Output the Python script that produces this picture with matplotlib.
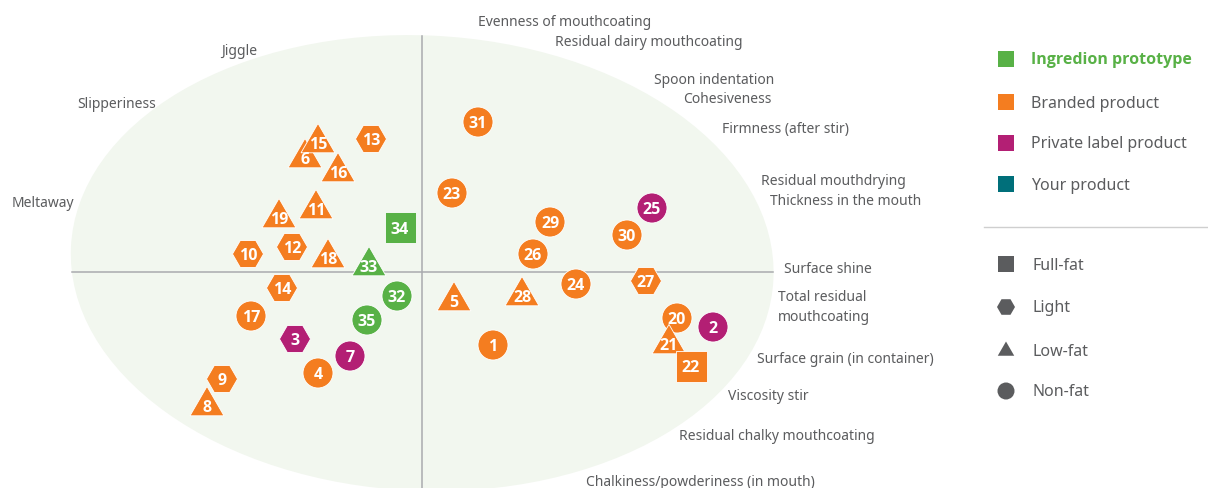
import numpy as np
import matplotlib
matplotlib.use("Agg")
import matplotlib.pyplot as plt
from matplotlib.patches import Circle, RegularPolygon, Rectangle, Ellipse

plt.rcParams['font.family'] = ['Noto Sans', 'DejaVu Sans']

# ---- data (map coordinates, origin at the axis crossing) ----
ids = [1, 2, 3, 4, 5, 6, 7, 8, 9, 10, 11, 12, 13, 14, 15, 16, 17, 18,
       19, 20, 21, 22, 23, 24, 25, 26, 27, 28, 29, 30, 31, 32, 33, 34, 35]
xs = [71, 291, -127, -104, 32, -117, -72, -215, -200, -174, -106, -130, -51, -140, -104, -84, -171, -94,
      -143, 255, 247, 269, 30, 154, 230, 111, 224, 100, 128, 205, 56, -25, -53, -22, -55]
ys = [-73, -55, -67, -101, -29, 114, -84, -134, -107, 18, 63, 25, 133, -16, 129, 100, -44, 14,
      54, -46, -72, -94, 79, -12, 64, 18, -9, -24, 50, 37, 150, -24, 6, 44, -48]
fat = ['non', 'non', 'light', 'non', 'low', 'low', 'non', 'low', 'light', 'light', 'low', 'light', 'light', 'light', 'low', 'low', 'non', 'low',
       'low', 'non', 'low', 'full', 'non', 'non', 'non', 'non', 'light', 'low', 'non', 'non', 'non', 'non', 'low', 'full', 'non']
kind = ['brand', 'private', 'private', 'brand', 'brand', 'brand', 'private', 'brand', 'brand', 'brand', 'brand', 'brand', 'brand', 'brand', 'brand', 'brand', 'brand', 'brand',
        'brand', 'brand', 'brand', 'brand', 'brand', 'brand', 'private', 'brand', 'brand', 'brand', 'brand', 'brand', 'brand', 'proto', 'proto', 'proto', 'proto']

attr_right = ['Evenness of mouthcoating', 'Residual dairy mouthcoating', 'Spoon indentation', 'Cohesiveness',
              'Firmness (after stir)', 'Residual mouthdrying', 'Thickness in the mouth', 'Surface shine',
              'Total residual\nmouthcoating', 'Surface grain (in container)', 'Viscosity stir',
              'Residual chalky mouthcoating', 'Chalkiness/powderiness (in mouth)']
attr_left = ['Jiggle', 'Slipperiness', 'Meltaway']

kind_labels = ['Ingredion prototype', 'Branded product', 'Private label product', 'Your product']
fat_labels = ['Full-fat', 'Light', 'Low-fat', 'Non-fat']

COL = {'proto': '#58B146', 'brand': '#F47D20', 'private': '#B31F74', 'yours': '#006F7A'}
GREY = '#5B5C5E'
FILL = '#F2F7EF'
LINE = '#A9ABAE'
BOLD = ['Open Sans', 'Lato', 'DejaVu Sans']

W, H = 1208, 488
OX, OY = 422, 272  # pixel position of origin


def px(x):
    return x - OX


def py(y):
    return OY - y


fig = plt.figure(figsize=(W / 100, H / 100), dpi=100)
ax = fig.add_axes([0, 0, 1, 1])
ax.set_xlim(px(0), px(W))
ax.set_ylim(py(H), py(0))
ax.axis('off')

# background ellipse
ax.add_patch(Ellipse((0.2, 8.9), 703.2, 455.4, angle=-2.59, facecolor=FILL, edgecolor='none', zorder=0))

ax.plot([px(72), px(773)], [0, 0], color=LINE, lw=1.1, zorder=1)
ax.plot([0, 0], [py(36), py(H)], color=LINE, lw=1.1, zorder=1)

R_CIRC = 15
SQ = 31
for i, x, y, f, k in zip(ids, xs, ys, fat, kind):
    c = COL[k]
    if f == 'non':
        p = Circle((x, y), R_CIRC)
    elif f == 'light':
        p = RegularPolygon((x, y), 6, radius=15.5, orientation=np.pi / 6)
    elif f == 'low':
        p = RegularPolygon((x, y), 3, radius=19.6)
    else:
        p = Rectangle((x - SQ / 2, y - SQ / 2), SQ, SQ)
    p.set_facecolor(c)
    p.set_edgecolor('white')
    p.set_linewidth(0.6)
    p.set_zorder(3)
    ax.add_patch(p)
    ax.text(x, y, str(i), color='white', fontsize=11.5, fontweight='bold', family=BOLD,
            ha='center', va='center_baseline', zorder=4)

# attribute labels
DY = 1.5
right_pos = [(478, 21), (555, 41), (654, 79), (683, 98), (722, 128), (761, 180), (770, 200), (784, 268),
             (778, 306), (757, 358), (728, 395), (679, 435), (586, 481)]
for t, (x, y) in zip(attr_right, right_pos):
    ax.text(px(x), py(y) - DY, t, fontsize=10, color=GREY, ha='left', va='center', linespacing=1.4)
left_pos = [(257, 50), (156, 103), (74, 202)]
for t, (x, y) in zip(attr_left, left_pos):
    ax.text(px(x), py(y) - DY, t, fontsize=10, color=GREY, ha='right', va='center')

# legend
krows = [59, 102, 143, 184]
kcols = ['proto', 'brand', 'private', 'yours']
for lab, yy, kc in zip(kind_labels, krows, kcols):
    ax.add_patch(Rectangle((px(998), py(yy) - 8), 16, 16, facecolor=COL[kc], edgecolor='none'))
    if kc == 'proto':
        ax.text(px(1031), py(yy) - DY, lab, fontsize=11.5, color=COL['proto'], fontweight='bold', family=BOLD,
                ha='left', va='center')
    else:
        ax.text(px(1031), py(yy) - DY, lab, fontsize=11.5, color=GREY, ha='left', va='center')
ax.plot([px(984), px(1208)], [py(227), py(227)], color='#CFCFCF', lw=1.0)
frows = [264, 307, 350, 391]
for lab, yy, j in zip(fat_labels, frows, range(4)):
    cx, cy = px(1006), py(yy)
    if j == 0:
        p = Rectangle((cx - 8, cy - 8), 16, 16)
    elif j == 1:
        p = RegularPolygon((cx, cy), 6, radius=9, orientation=np.pi / 6)
    elif j == 2:
        p = RegularPolygon((cx, cy - 1), 3, radius=9.5)
    else:
        p = Circle((cx, cy), 8.5)
    p.set_facecolor(GREY)
    p.set_edgecolor('none')
    ax.add_patch(p)
    ax.text(px(1033), cy - DY, lab, fontsize=11.5, color=GREY, ha='left', va='center')

fig.savefig('out.png', dpi=100)
